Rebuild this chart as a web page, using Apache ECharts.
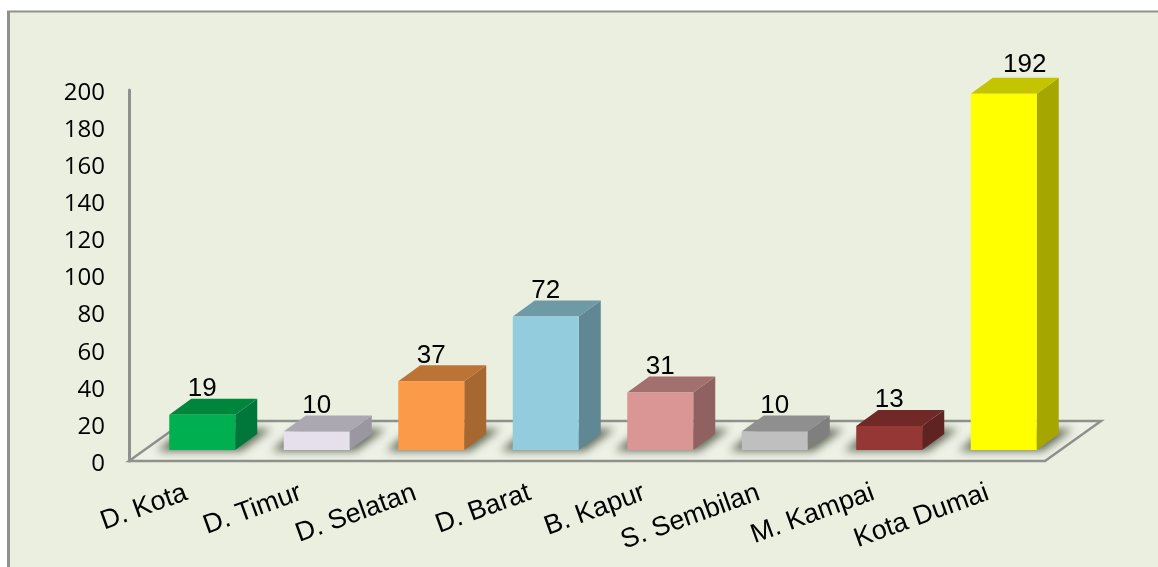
<!DOCTYPE html>
<html>
<head>
<meta charset="utf-8">
<title>Chart</title>
<script src="https://cdn.jsdelivr.net/npm/echarts@6/dist/echarts.min.js"></script>
<style>
  html, body { margin: 0; padding: 0; background: #fff; }
  #chart { position: absolute; left: 0; top: 0; width: 1158px; height: 567px; }
</style>
</head>
<body>
<div id="chart"></div>
<script>
var categories = ['D. Kota', 'D. Timur', 'D. Selatan', 'D. Barat', 'B. Kapur', 'S. Sembilan', 'M. Kampai', 'Kota Dumai'];
var values = [19, 10, 37, 72, 31, 10, 13, 192];
var yTicks = { min: 0, max: 200, interval: 20 };

var frontColors = ['#00B050', '#E6E0EC', '#FB9A48', '#93CDDD', '#D99694', '#BFBFBF', '#953735', '#FFFF00'];
var topColors = ['#00853C', '#ACA8B1', '#BC7436', '#6E9AA6', '#A3706F', '#8F8F8F', '#702927', '#C4C400'];
var sideColors = ['#00773A', '#9A97A0', '#A66730', '#5F8794', '#8F6261', '#7F7F7F', '#5F2322', '#A6A600'];
// the last label sits off to the right, above the top face
var labelShift = [0, 0, 0, 0, 0, 0, 0, 21];
var labelLift = [0, 0, 0, 0, 0, 0, 0, 3];

var axisGrey = '#8E918C';
var barWidth = 66;
var floorDx = 56, floorDy = -40;   // depth of the whole floor
var baseDx = 16, baseDy = -11;     // where the bars stand on it
var depthDx = 22, depthDy = -16;   // depth of a bar
var offCanvas = 3000;              // shape sits off screen, only its blur lands on the floor

function poly(points, fill, extra) {
  var el = {
    type: 'polygon',
    shape: { points: points },
    style: { fill: fill }
  };
  if (extra) { for (var k in extra) { el.style[k] = extra[k]; } }
  return el;
}

var chart = echarts.init(document.getElementById('chart'), null, { renderer: 'canvas' });
chart.setOption({
  animation: false,
  backgroundColor: 'transparent',
  grid: { left: 129, right: 113, top: 90, bottom: 106 },
  graphic: [
    {
      type: 'rect', z: -10, silent: true,
      shape: { x: 8, y: 11, width: 1150, height: 556 },
      style: { fill: '#EBEFDF' }
    },
    {
      type: 'line', z: -9, silent: true,
      shape: { x1: 8.5, y1: 11, x2: 8.5, y2: 567 },
      style: { stroke: axisGrey, lineWidth: 3 }
    },
    {
      type: 'line', z: -9, silent: true,
      shape: { x1: 7, y1: 11.5, x2: 1158, y2: 11.5 },
      style: { stroke: axisGrey, lineWidth: 2 }
    }
  ],
  xAxis: {
    type: 'category',
    data: categories,
    axisLine: { show: false },
    axisTick: { show: false },
    axisLabel: {
      interval: 0, rotate: 20, margin: 31, color: '#000',
      fontFamily: 'Liberation Sans', fontSize: 27
    }
  },
  yAxis: {
    type: 'value',
    min: yTicks.min, max: yTicks.max, interval: yTicks.interval,
    axisLine: { show: true, lineStyle: { color: axisGrey, width: 3 } },
    axisTick: { show: false },
    splitLine: { show: false },
    axisLabel: { margin: 24, color: '#000', fontFamily: 'Open Sans', fontSize: 24, verticalAlign: 'top', lineHeight: 28, padding: [-11, 0, 0, 0] }
  },
  series: [
    {
      // floor of the 3D plot, drawn once
      type: 'custom',
      coordinateSystem: 'cartesian2d',
      silent: true,
      z: 1,
      data: [0],
      renderItem: function(params, api) {
        var g = params.coordSys;
        var y0 = g.y + g.height;
        var pts = [[g.x, y0], [g.x + g.width, y0], [g.x + g.width + floorDx, y0 + floorDy], [g.x + floorDx, y0 + floorDy]];
        return {
          type: 'polygon',
          shape: { points: pts },
          style: { fill: '#EEF1E6', stroke: axisGrey, lineWidth: 2.5 }
        };
      }
    },
    {
      // base shadows
      type: 'custom',
      coordinateSystem: 'cartesian2d',
      silent: true,
      z: 2,
      data: values,
      renderItem: function(params, api) {
        var base = api.coord([params.dataIndex, 0]);
        var l = base[0] + baseDx - barWidth / 2 - offCanvas;
        var r = l + barWidth;
        var b = base[1] + baseDy;
        return poly([[l - 12, b + 1], [r + 6, b + 1], [r + depthDx + 14, b - 21], [l + 14, b - 21]],
          '#000', { shadowBlur: 9, shadowOffsetX: offCanvas, shadowColor: 'rgba(100,108,90,1)' });
      }
    },
    {
      // the boxes and their value labels
      type: 'custom',
      coordinateSystem: 'cartesian2d',
      silent: true,
      z: 3,
      encode: { x: 0, y: 1 },
      data: values.map(function(v, i) { return [i, v]; }),
      renderItem: function(params, api) {
        var i = params.dataIndex;
        var base = api.coord([i, 0]);
        var top = api.coord([i, api.value(1)]);
        var l = base[0] + baseDx - barWidth / 2;
        var r = l + barWidth;
        var b = base[1] + baseDy;
        var t = top[1] + baseDy;
        return {
          type: 'group',
          children: [
            poly([[r, b], [r + depthDx, b + depthDy], [r + depthDx, t + depthDy], [r, t]], sideColors[i]),
            poly([[l, t], [r, t], [r + depthDx, t + depthDy], [l + depthDx, t + depthDy]], topColors[i]),
            poly([[l, b], [r, b], [r, t], [l, t]], frontColors[i]),
            {
              type: 'text',
              z2: 10,
              style: {
                text: String(api.value(1)),
                x: (l + r) / 2 + labelShift[i],
                y: t + depthDy + 3 - labelLift[i],
                align: 'center',
                verticalAlign: 'bottom',
                fill: '#000',
                fontFamily: 'Liberation Sans',
                fontSize: 26
              }
            }
          ]
        };
      }
    }
  ]
});
window.addEventListener('resize', function() { chart.resize(); });
</script>
</body>
</html>
